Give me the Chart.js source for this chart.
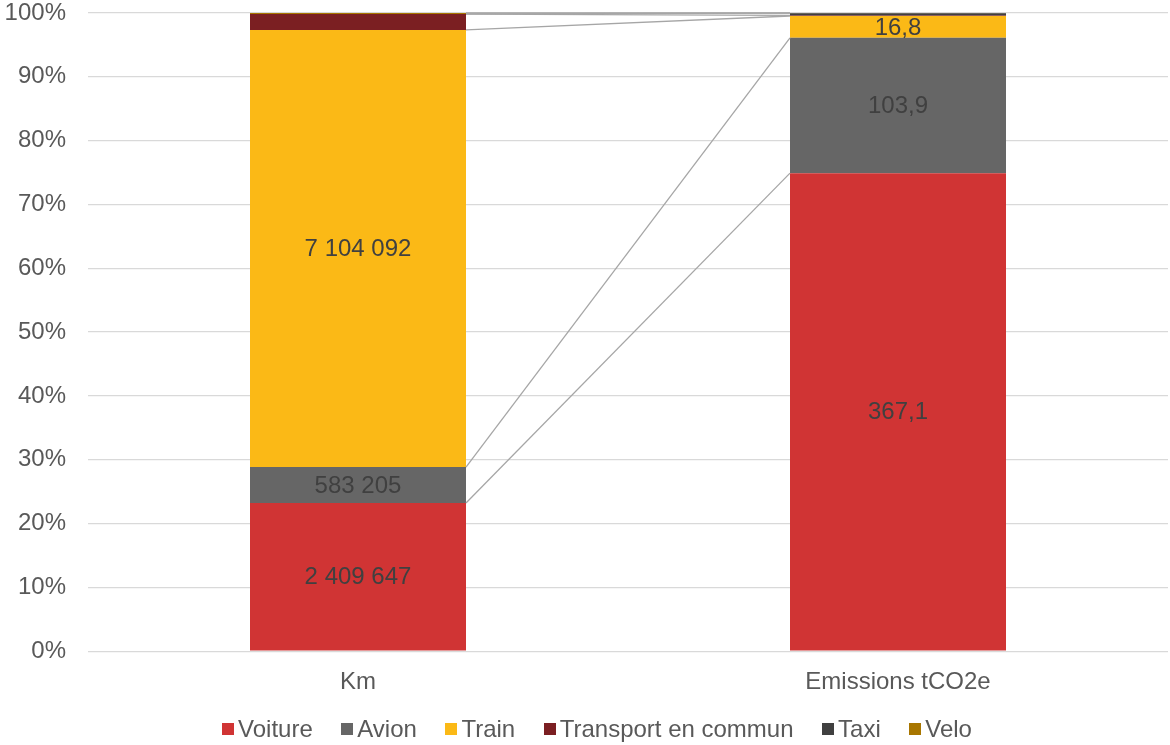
<!DOCTYPE html>
<html>
<head>
<meta charset="utf-8">
<script src="https://cdn.jsdelivr.net/npm/chart.js@4/dist/chart.umd.min.js"></script>
<style>
  html, body { margin: 0; padding: 0; background: #fff; }
  #wrap { width: 1170px; height: 745px; position: relative; }
</style>
</head>
<body>
<div id="wrap"><canvas id="grafico"></canvas></div>
<script>
const categories = ['Km', 'Emissions tCO2e'];
const seriesNames = ['Voiture', 'Avion', 'Train', 'Transport en commun', 'Taxi', 'Velo'];
const seriesColors = ['#d03434', '#666666', '#fbb916', '#7b1f22', '#404040', '#a87600'];

// valeurs brutes par mode
const kmValues = [2409647, 583205, 7104092, 258000, 2500, 15000];
const co2Values = [367.1, 103.9, 16.8, 0.4, 1.8, 0.1];

// seuls ces modes portent une étiquette
const labelled = [true, true, true, false, false, false];
const yTicks = [0, 10, 20, 30, 40, 50, 60, 70, 80, 90, 100];

const FONT = '"Liberation Sans", Arial, sans-serif';
const kmTotal = kmValues.reduce((a, b) => a + b, 0);
const co2Total = co2Values.reduce((a, b) => a + b, 0);

function fmtKm(v) {
    return String(v).replace(/\B(?=(\d{3})+(?!\d))/g, ' ');
}
function fmtCo2(v) {
    return v.toFixed(1).replace('.', ',');
}

const datasets = seriesNames.map((name, i) => ({
    label: name,
    data: [kmValues[i] / kmTotal * 100, co2Values[i] / co2Total * 100],
    raw: [fmtKm(kmValues[i]), fmtCo2(co2Values[i])],
    backgroundColor: seriesColors[i],
    borderWidth: 0,
    categoryPercentage: 1,
    barPercentage: 0.4,
}));

// lignes de liaison entre les deux barres (haut de chaque segment)
const seriesLines = {
    id: 'seriesLines',
    afterDatasetsDraw(chart) {
        const ctx = chart.ctx;
        ctx.save();
        ctx.strokeStyle = '#a6a6a6';
        ctx.lineWidth = 1.3;
        chart.data.datasets.forEach((ds, i) => {
            const meta = chart.getDatasetMeta(i);
            const a = meta.data[0], b = meta.data[1];
            ctx.beginPath();
            ctx.moveTo(a.x + a.width / 2, a.y);
            ctx.lineTo(b.x - b.width / 2, b.y);
            ctx.stroke();
        });
        ctx.restore();
    }
};

// étiquettes de valeur au centre des segments
const valueLabels = {
    id: 'valueLabels',
    afterDatasetsDraw(chart) {
        const ctx = chart.ctx;
        ctx.save();
        ctx.font = '24px ' + FONT;
        ctx.fillStyle = '#404040';
        ctx.textAlign = 'center';
        ctx.textBaseline = 'middle';
        chart.data.datasets.forEach((ds, i) => {
            if (!labelled[i]) return;
            const meta = chart.getDatasetMeta(i);
            meta.data.forEach((el, j) => {
                const mid = (el.y + el.base) / 2;
                ctx.fillText(ds.raw[j], el.x, mid + 1);
            });
        });
        ctx.restore();
    }
};

// légende en bas, carrés serrés contre le texte
const bottomLegend = {
    id: 'bottomLegend',
    afterDraw(chart) {
        const ctx = chart.ctx;
        const box = 12, gapText = 4, gapItem = 28.5;
        const y = 729;
        ctx.save();
        ctx.font = '24px ' + FONT;
        ctx.textBaseline = 'middle';
        const widths = chart.data.datasets.map(ds => ctx.measureText(ds.label).width);
        let total = 0;
        widths.forEach((w, i) => { total += box + gapText + w + (i ? gapItem : 0); });
        let x = chart.width / 2 - total / 2 + 12;
        chart.data.datasets.forEach((ds, i) => {
            ctx.fillStyle = ds.backgroundColor;
            ctx.fillRect(Math.round(x), Math.round(y - box / 2), box, box);
            x += box + gapText;
            ctx.fillStyle = '#595959';
            ctx.fillText(ds.label, x, y + 1);
            x += widths[i] + gapItem;
        });
        ctx.restore();
    }
};

const ctx = document.getElementById('grafico').getContext('2d');
const chart = new Chart(ctx, {
    type: 'bar',
    data: { labels: categories, datasets: datasets },
    options: {
        responsive: true,
        maintainAspectRatio: false,
        animation: false,
        layout: { padding: { top: 13, right: 2, bottom: 39, left: 0 } },
        scales: {
            x: {
                stacked: true,
                grid: { display: false },
                border: { display: false },
                ticks: {
                    color: '#595959',
                    font: { family: FONT, size: 24 },
                    padding: 9,
                },
            },
            y: {
                stacked: true,
                min: 0,
                max: 100,
                afterBuildTicks: axis => { axis.ticks = yTicks.map(v => ({ value: v })); },
                afterFit: axis => {
                    axis.width = 88;
                    axis.paddingTop = 0;
                    axis.paddingBottom = 0;
                },
                grid: { color: '#d9d9d9', drawTicks: false, lineWidth: 1.3 },
                border: { display: false },
                ticks: {
                    color: '#595959',
                    font: { family: FONT, size: 24 },
                    padding: 22,
                    callback: value => value + '%',
                },
            },
        },
        plugins: {
            legend: { display: false },
            tooltip: { enabled: false },
        },
    },
    plugins: [seriesLines, valueLabels, bottomLegend],
});
</script>
</body>
</html>
